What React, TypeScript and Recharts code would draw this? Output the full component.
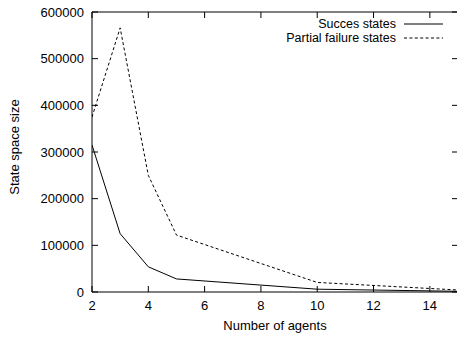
import React from 'react';
import { LineChart, Line, XAxis, YAxis, Legend } from 'recharts';

const agents = [2, 3, 4, 5, 10, 15];
const successStates = [315000, 125000, 54000, 28000, 6000, 1500];
const partialFailureStates = [375000, 566000, 250000, 122000, 20500, 4300];

const xTicks = [2, 4, 6, 8, 10, 12, 14];
const yTicks = [0, 100000, 200000, 300000, 400000, 500000, 600000];

const data = agents.map((a, i) => ({
  agents: a,
  success: successStates[i],
  partial: partialFailureStates[i],
}));

const FONT = '"Liberation Sans", Arial, Helvetica, sans-serif';
const TICK = 6;

const legendItems = [
  { name: 'Succes states', dash: undefined },
  { name: 'Partial failure states', dash: '3 2.4' },
];

const GnuLegend = () => (
  <div style={{ fontFamily: FONT, fontSize: 12.5, color: '#000', lineHeight: '14px' }}>
    {legendItems.map((it) => (
      <div key={it.name} style={{ display: 'flex', alignItems: 'center', justifyContent: 'flex-end', height: 14 }}>
        <span style={{ display: 'block', lineHeight: '14px' }}>{it.name}</span>
        <svg width={39} height={14} style={{ display: 'block', marginLeft: 8 }}>
          <line x1={0} y1={7} x2={39} y2={7} stroke="#000" strokeWidth={1} strokeDasharray={it.dash} />
        </svg>
      </div>
    ))}
  </div>
);

// gnuplot style: ticks point into the plot
const BottomTick = (p: any) => (
  <g>
    <path d={`M${p.x},${p.y}v${-TICK}`} stroke="#000" strokeWidth={1} fill="none" />
    <text x={p.x} y={p.y + 18} textAnchor="middle" fontSize={13} fill="#000" fontFamily={FONT}>
      {p.payload.value}
    </text>
  </g>
);
const TopTick = (p: any) => (
  <path d={`M${p.x},${p.y}v${TICK}`} stroke="#000" strokeWidth={1} fill="none" />
);
const LeftTick = (p: any) => (
  <g>
    <path d={`M${p.x},${p.y}h${TICK}`} stroke="#000" strokeWidth={1} fill="none" />
    <text x={p.x - 8} y={p.y + 4.6} textAnchor="end" fontSize={13} fill="#000" fontFamily={FONT}>
      {p.payload.value}
    </text>
  </g>
);
const RightTick = (p: any) => (
  <path d={`M${p.x},${p.y}h${-TICK}`} stroke="#000" strokeWidth={1} fill="none" />
);

export default function App() {
  return (
    <div style={{ position: 'relative', width: 457, height: 338, overflow: 'hidden', background: '#fff' }}>
      <style>{`body{margin:0}`}</style>
      <LineChart
        width={460}
        height={338}
        data={data}
        margin={{ top: 11, right: 1, bottom: 0, left: 0 }}
        style={{ fontFamily: FONT }}
      >
        <XAxis
          dataKey="agents"
          type="number"
          domain={[2, 15]}
          ticks={xTicks}
          allowDataOverflow
          height={46}
          tickSize={0}
          tickMargin={0}
          tickLine={false}
          axisLine={{ stroke: '#000' }}
          tick={BottomTick}
        />
        <XAxis
          xAxisId="top"
          orientation="top"
          dataKey="agents"
          type="number"
          domain={[2, 15]}
          ticks={xTicks}
          allowDataOverflow
          height={1}
          tickSize={0}
          tickMargin={0}
          tickLine={false}
          axisLine={{ stroke: '#000' }}
          tick={TopTick}
        />
        <YAxis
          type="number"
          domain={[0, 600000]}
          ticks={yTicks}
          allowDataOverflow
          width={92}
          tickSize={0}
          tickMargin={0}
          tickLine={false}
          axisLine={{ stroke: '#000' }}
          tick={LeftTick}
        />
        <YAxis
          yAxisId="right"
          orientation="right"
          type="number"
          domain={[0, 600000]}
          ticks={yTicks}
          allowDataOverflow
          width={1}
          tickSize={0}
          tickMargin={0}
          tickLine={false}
          axisLine={{ stroke: '#000' }}
          tick={RightTick}
        />
        <Legend
          layout="horizontal"
          verticalAlign="middle"
          align="center"
          content={GnuLegend}
          wrapperStyle={{ top: 16.5, right: 17, left: 'auto', width: 'auto' }}
        />
        <Line
          dataKey="success"
          name="Succes states"
          stroke="#000"
          strokeWidth={1}
          dot={false}
          activeDot={false}
          isAnimationActive={false}
        />
        <Line
          dataKey="partial"
          name="Partial failure states"
          stroke="#000"
          strokeWidth={1}
          strokeDasharray="3 2.4"
          dot={false}
          activeDot={false}
          isAnimationActive={false}
        />
      </LineChart>
      <div
        style={{
          position: 'absolute',
          left: 275,
          top: 318,
          transform: 'translateX(-50%)',
          fontFamily: FONT,
          fontSize: 13,
          whiteSpace: 'nowrap',
        }}
      >
        Number of agents
      </div>
      <div
        style={{
          position: 'absolute',
          left: 14,
          top: 147,
          transform: 'translate(-50%, -50%) rotate(-90deg)',
          fontFamily: FONT,
          fontSize: 13,
          whiteSpace: 'nowrap',
        }}
      >
        State space size
      </div>
    </div>
  );
}
